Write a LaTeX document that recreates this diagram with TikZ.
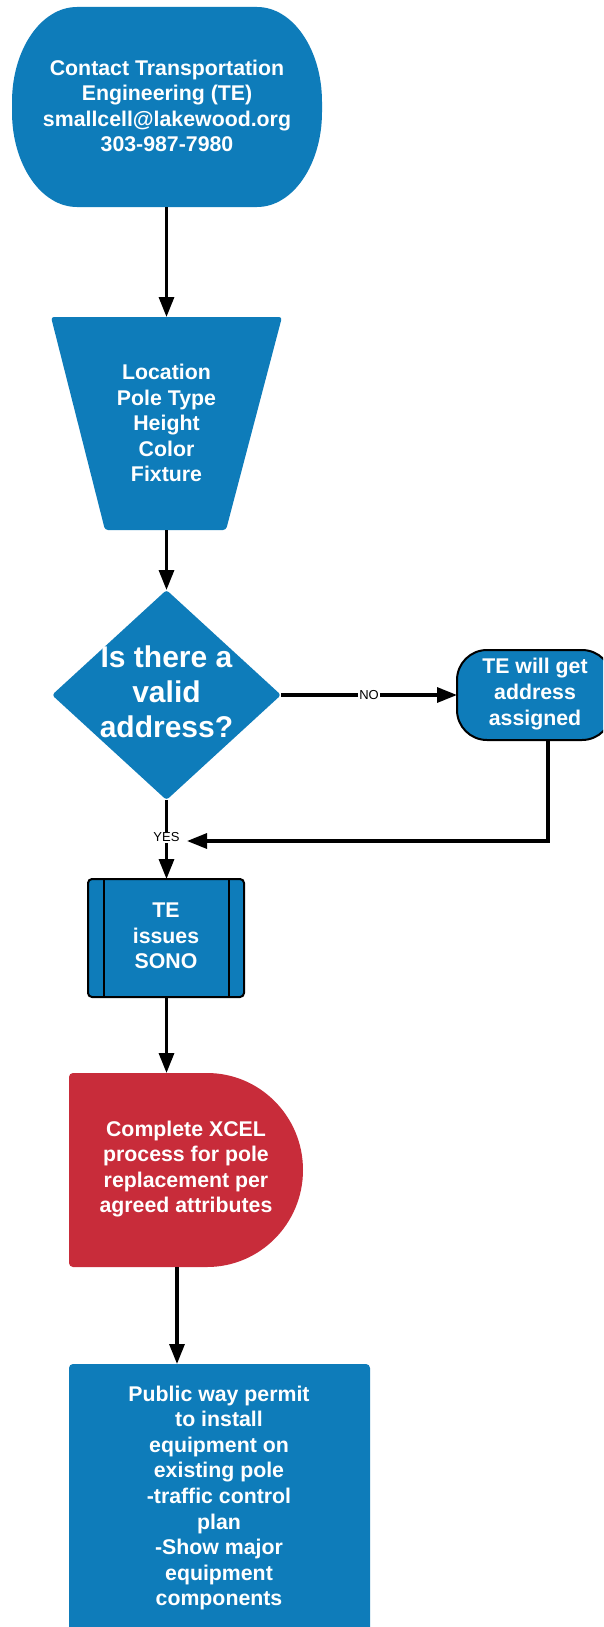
\documentclass[tikz,border=0pt]{standalone}
\usepackage{fontspec}
\setmainfont{Liberation Sans}
\usetikzlibrary{arrows.meta}
\definecolor{tblue}{RGB}{14,124,186}
\definecolor{tred}{RGB}{200,44,58}
\begin{document}
\begin{tikzpicture}[x=1pt,y=1pt,
  txt/.style={text=white, font=\bfseries\fontsize{21.3}{25.6}\selectfont, align=center, inner sep=0pt},
  bigtxt/.style={text=white, font=\bfseries\fontsize{30}{35}\selectfont, align=center, inner sep=0pt},
  conn/.style={line width=3.2pt, -{Triangle[length=20pt,width=15pt]}},
  lbl/.style={fill=white, text=black, font=\fontsize{13}{14}\selectfont, inner sep=1pt},
  boxline/.style={draw=black, line width=2pt}]
\useasboundingbox (0,0) rectangle (603,-1627);
\clip (0,0) rectangle (603,-1627);
\fill[white] (0,0) rectangle (603,-1627);

% start terminal
\fill[tblue] (77,-7) -- (257,-7)
  arc[start angle=90,end angle=0,x radius=65,y radius=95] -- (322,-112)
  arc[start angle=0,end angle=-90,x radius=65,y radius=95] -- (77,-207)
  arc[start angle=270,end angle=180,x radius=65,y radius=95] -- (12,-102)
  arc[start angle=180,end angle=90,x radius=65,y radius=95] -- cycle;
\node[txt] (start) at (167,-106) {Contact Transportation\\Engineering (TE)\\smallcell@lakewood.org\\303-987-7980};
\coordinate (startS) at (166.5,-207);

% trapezoid
\fill[tblue, rounded corners=3pt] (51,-317) -- (282,-317) -- (226,-530) -- (105,-530) -- cycle;
\node[txt] (attr) at (166.5,-423) {Location\\Pole Type\\Height\\Color\\Fixture};
\coordinate (trapN) at (166.5,-317);
\coordinate (trapS) at (166.5,-530);

% decision
\fill[tblue, rounded corners=3pt] (166.5,-590) -- (281,-695) -- (166.5,-800) -- (52,-695) -- cycle;
\node[bigtxt] (dec) at (166.5,-692) {Is there a\\valid\\address?};
\coordinate (dN) at (166.5,-590);
\coordinate (dE) at (281,-695);
\coordinate (dS) at (166.5,-800);

% TE will get address
\filldraw[fill=tblue, boxline, rounded corners=30pt] (457,-650) rectangle (612,-740);
\node[txt] (assign) at (535,-694) {TE will get\\address\\assigned};
\coordinate (teW) at (457,-695);
\coordinate (teS) at (548,-740);
\coordinate (teC) at (548,-841);
\coordinate (yesIn) at (187,-841);

% TE issues SONO
\filldraw[fill=tblue, boxline, rounded corners=4pt] (88,-879) rectangle (244,-997);
\draw[boxline] (104,-879) -- (104,-997);
\draw[boxline] (229,-879) -- (229,-997);
\node[txt] (sono) at (166,-936) {TE\\issues\\SONO};
\coordinate (sonoN) at (166.5,-879);
\coordinate (sonoS) at (166.5,-997);

% XCEL delay shape
\fill[tred] (207,-1073) arc[start angle=90,end angle=-90,x radius=96,y radius=97]
  [rounded corners=4pt] -- (69,-1267) -- (69,-1073) [sharp corners] -- (207,-1073) -- cycle;
\node[txt] (xcel) at (186,-1169) {Complete XCEL\\process for pole\\replacement per\\agreed attributes};
\coordinate (redN) at (166.5,-1073);
\coordinate (redS) at (177,-1267);

% final permit box
\fill[tblue, rounded corners=4pt] (69,-1364) rectangle (370,-1670);
\node[txt] (permit) at (219,-1498) {Public way permit\\to install\\equipment on\\existing pole\\-traffic control\\plan\\-Show major\\equipment\\components};
\coordinate (finN) at (177,-1364);

% connectors
\draw[conn] (startS) -- (trapN);
\draw[conn] (trapS) -- (dN);
\draw[conn] (dE) -- node[lbl]{NO} (teW);
\draw[conn] (teS) -- (teC) -- (yesIn);
\draw[conn] (dS) -- node[lbl,pos=0.47]{YES} (sonoN);
\draw[conn] (sonoS) -- (redN);
\draw[conn] (redS) -- (finN);
\end{tikzpicture}
\end{document}
